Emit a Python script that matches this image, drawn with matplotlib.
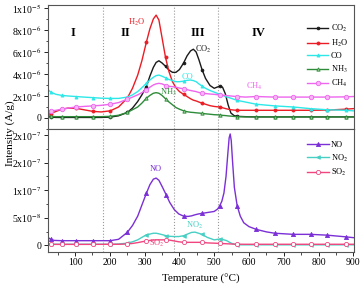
import numpy as np
import matplotlib
matplotlib.use('Agg')
import matplotlib.pyplot as plt
from matplotlib.ticker import FixedLocator, FixedFormatter, MultipleLocator

plt.rcParams['font.family'] = ['Liberation Serif', 'DejaVu Serif']
plt.rcParams['mathtext.fontset'] = 'stix'

# ---- top panel data (x1e-6 A/g) ----
t_top = [25, 30, 45, 62, 80, 103, 125, 151, 175, 201,
         225, 250, 265, 280, 292, 305, 315, 325, 333, 341,
         350, 360, 370, 380, 390, 400, 412, 422, 432, 440,
         448, 456, 465, 475, 488, 500, 508, 516, 524, 532,
         540, 548, 557, 566, 590, 621, 674, 727, 777, 825,
         878, 900]
co2 = [0.12, 0.08, 0.05, 0.05, 0.05, 0.05, 0.05, 0.05, 0.05, 0.08,
       0.2, 0.5, 0.9, 1.5, 2.1, 2.85, 3.8, 4.6, 5.05, 5.2,
       5.0, 4.7, 4.35, 4.15, 4.15, 4.4, 5.0, 5.65, 6.1, 6.25,
       6.0, 5.3, 4.4, 3.6, 2.95, 2.7, 2.8, 2.9, 2.8, 2.2,
       1.2, 0.45, 0.22, 0.15, 0.12, 0.1, 0.1, 0.1, 0.1, 0.1,
       0.1, 0.1]
h2o = [0.35, 0.4, 0.6, 0.8, 0.9, 0.88, 0.75, 0.6, 0.55, 0.65,
       1.0, 1.8, 2.7, 3.9, 5.2, 6.9, 8.1, 9.0, 9.35, 8.9,
       7.3, 5.5, 4.2, 3.3, 2.75, 2.4, 2.15, 1.95, 1.75, 1.62,
       1.55, 1.45, 1.35, 1.25, 1.12, 1.05, 1.02, 1.0, 0.93, 0.86,
       0.8, 0.75, 0.72, 0.7, 0.7, 0.7, 0.7, 0.7, 0.7, 0.72,
       0.8, 0.85]
co = [2.5, 2.35, 2.15, 2.05, 2.0, 1.95, 1.9, 1.85, 1.8, 1.78,
      1.78, 1.9, 2.1, 2.4, 2.75, 3.15, 3.45, 3.7, 3.85, 3.9,
      3.8, 3.65, 3.5, 3.4, 3.3, 3.3, 3.35, 3.42, 3.45, 3.4,
      3.3, 3.1, 2.9, 2.7, 2.5, 2.35, 2.25, 2.15, 2.05, 1.95,
      1.88, 1.8, 1.7, 1.6, 1.45, 1.25, 1.1, 1.0, 0.85, 0.75,
      0.7, 0.65]
nh3 = [0.2, 0.15, 0.12, 0.12, 0.12, 0.12, 0.12, 0.12, 0.12, 0.15,
       0.25, 0.5, 0.75, 1.0, 1.35, 1.8, 2.05, 2.25, 2.3, 2.25,
       2.05, 1.75, 1.45, 1.2, 0.95, 0.8, 0.65, 0.57, 0.52, 0.5,
       0.47, 0.45, 0.42, 0.38, 0.34, 0.3, 0.29, 0.27, 0.24, 0.22,
       0.19, 0.17, 0.14, 0.12, 0.1, 0.1, 0.1, 0.1, 0.1, 0.1,
       0.1, 0.1]
ch4 = [0.6, 0.62, 0.7, 0.8, 0.9, 1.0, 1.05, 1.1, 1.15, 1.25,
       1.4, 1.7, 1.9, 2.1, 2.3, 2.55, 2.8, 3.0, 3.1, 3.15,
       3.1, 2.95, 2.88, 2.85, 2.8, 2.72, 2.65, 2.57, 2.5, 2.45,
       2.4, 2.32, 2.25, 2.22, 2.18, 2.15, 2.12, 2.1, 2.07, 2.05,
       2.02, 2.0, 1.97, 1.95, 1.9, 1.95, 1.9, 1.9, 1.9, 1.9,
       1.92, 1.95]

# ---- bottom panel data (x1e-8 A/g) ----
t_bot = [25, 30, 40, 62, 103, 151, 201, 225, 250, 265,
         280, 292, 305, 315, 325, 333, 341, 350, 362, 372,
         385, 398, 412, 425, 435, 445, 455, 465, 480, 500,
         510, 516, 522, 528, 534, 539, 543, 546, 549, 553,
         558, 566, 575, 585, 600, 621, 650, 674, 727, 777,
         825, 878, 900]
no = [1.3, 1.1, 0.9, 0.85, 0.85, 0.85, 0.85, 1.1, 2.35, 3.6,
      5.3, 7.3, 9.45, 11.0, 12.0, 12.2, 11.8, 10.7, 9.15, 7.8,
      6.5, 5.7, 5.3, 5.25, 5.35, 5.55, 5.7, 5.8, 5.95, 6.15,
      6.6, 7.2, 8.0, 9.5, 12.5, 16.5, 19.5, 20.2, 19.0, 15.0,
      10.5, 7.2, 5.3, 4.1, 3.4, 2.9, 2.45, 2.2, 2.0, 2.0,
      1.85, 1.55, 1.4]
no2 = [0.2, 0.2, 0.2, 0.2, 0.2, 0.2, 0.2, 0.25, 0.4, 0.65,
       1.0, 1.45, 1.9, 2.05, 2.2, 2.2, 2.1, 1.95, 1.75, 1.65,
       1.6, 1.6, 1.75, 2.1, 2.35, 2.4, 2.2, 2.0, 1.45, 1.0,
       1.1, 1.15, 1.1, 1.0, 0.9, 0.75, 0.6, 0.5, 0.4, 0.3,
       0.2, 0.12, 0.1, 0.1, 0.1, 0.1, 0.1, 0.1, 0.1, 0.1,
       0.1, 0.1, 0.1]
so2 = [0.18, 0.18, 0.18, 0.18, 0.18, 0.18, 0.2, 0.2, 0.25, 0.35,
       0.5, 0.65, 0.8, 0.9, 0.97, 1.0, 1.0, 1.0, 1.0, 0.95,
       0.8, 0.65, 0.55, 0.55, 0.55, 0.55, 0.55, 0.55, 0.45, 0.4,
       0.37, 0.35, 0.33, 0.31, 0.3, 0.28, 0.27, 0.26, 0.25, 0.24,
       0.23, 0.22, 0.21, 0.2, 0.2, 0.2, 0.2, 0.2, 0.2, 0.2,
       0.2, 0.2, 0.2]

mark_t = [30, 62, 103, 151, 201, 250, 305, 360, 362, 412, 465, 516, 566, 621, 674, 727, 777, 825, 878]
regions = [180, 385, 510]

fig = plt.figure(figsize=(3.6, 2.84), dpi=100)
ax1 = fig.add_axes([0.1333, 0.5458, 0.85, 0.4366])
ax2 = fig.add_axes([0.1333, 0.1127, 0.85, 0.4331])

def marks(tt):
    return [i for i, t in enumerate(tt) if t in mark_t]

top_series = [
    (co2, 'CO$_2$', '#1a1a1a', 'o', 2.0, '#1a1a1a'),
    (h2o, 'H$_2$O', '#ec1c24', 'o', 2.2, '#ec1c24'),
    (co, 'CO', '#2ee8e8', '^', 2.2, '#2ee8e8'),
    (nh3, 'NH$_3$', '#2e8b3a', '^', 2.4, '#9ad19a'),
    (ch4, 'CH$_4$', '#ee66ee', 'o', 3.2, '#f6b3f6'),
]
for y, lab, c, m, ms, fc in top_series:
    ax1.plot(t_top, np.array(y) * 1e-6, color=c, lw=1.0, marker=m, ms=ms, mfc=fc, mec=c,
             mew=0.6, markevery=marks(t_top), label=lab)

bot_series = [
    (no, 'NO', '#7b2fd6', '^', 3.0, '#7b2fd6'),
    (no2, 'NO$_2$', '#48cfc4', '<', 2.6, '#48cfc4'),
    (so2, 'SO$_2$', '#f0457e', 'o', 3.0, 'white'),
]
for y, lab, c, m, ms, fc in bot_series:
    ax2.plot(t_bot, np.array(y) * 1e-8, color=c, lw=1.0, marker=m, ms=ms, mfc=fc, mec=c,
             mew=0.6, markevery=marks(t_bot), label=lab)

for ax in (ax1, ax2):
    for r in regions:
        ax.axvline(r, color='#999999', ls=':', lw=0.8, zorder=0)
    ax.set_xlim(22, 902)
    ax.xaxis.set_major_locator(MultipleLocator(100))
    ax.xaxis.set_minor_locator(MultipleLocator(50))
    ax.tick_params(direction='out', labelsize=7, length=3, width=0.6, pad=1.5)
    ax.tick_params(which='minor', direction='out', length=1.8, width=0.5)
    for s in ax.spines.values():
        s.set_linewidth(0.8)
        s.set_color('#555555')

ax1.set_ylim(-1.0e-6, 1.027e-5)
ax1.yaxis.set_major_locator(FixedLocator([0, 2e-6, 4e-6, 6e-6, 8e-6, 1e-5]))
ax1.yaxis.set_major_formatter(FixedFormatter(['0', '2x10$^{-6}$', '4x10$^{-6}$', '6x10$^{-6}$',
                                              '8x10$^{-6}$', '1x10$^{-5}$']))
ax1.yaxis.set_minor_locator(MultipleLocator(1e-6))
ax1.tick_params(axis='x', which='both', bottom=False, labelbottom=False)

ax2.set_ylim(-1.2e-8, 2.11e-7)
ax2.yaxis.set_major_locator(FixedLocator([0, 5e-8, 1e-7, 1.5e-7, 2e-7]))
ax2.yaxis.set_major_formatter(FixedFormatter(['0', '5x10$^{-8}$', '1x10$^{-7}$', '2x10$^{-7}$',
                                              '2x10$^{-7}$']))
ax2.yaxis.set_minor_locator(MultipleLocator(2.5e-8))
ax2.set_xlabel('Temperature (°C)', fontsize=8, labelpad=5)

for txt, x in [('I', 95), ('II', 244), ('III', 452), ('IV', 628)]:
    ax1.text(x, 7.7e-6, txt, fontsize=9, fontweight='bold', ha='center', va='center')

ax1.text(277, 8.7e-6, 'H$_2$O', color='#ec1c24', fontsize=6, ha='center', va='center')
ax1.text(369, 2.35e-6, 'NH$_3$', color='#2e8b3a', fontsize=6, ha='center', va='center')
ax1.text(470, 6.25e-6, 'CO$_2$', color='#1a1a1a', fontsize=6, ha='center', va='center')
ax1.text(422, 3.75e-6, 'CO', color='#2ee8e8', fontsize=6, ha='center', va='center')
ax1.text(614, 2.9e-6, 'CH$_4$', color='#ee66ee', fontsize=6, ha='center', va='center')
ax2.text(331, 1.38e-7, 'NO', color='#7b2fd6', fontsize=6, ha='center', va='center')
ax2.text(444, 3.7e-8, 'NO$_2$', color='#48cfc4', fontsize=6, ha='center', va='center')
ax2.text(336, 0.3e-8, 'SO$_2$', color='#f0457e', fontsize=6, ha='center', va='center')

leg_kw = dict(loc='upper right', frameon=False, fontsize=6, handlelength=2.6,
              handletextpad=0.3, labelspacing=0.4, borderaxespad=0.3)
ax1.legend(bbox_to_anchor=(1.0, 0.90), **leg_kw)
ax2.legend(bbox_to_anchor=(1.0, 0.95), **leg_kw)

fig.text(0.028, 0.53, 'Intensity (A/g)', rotation=90, fontsize=8, ha='center', va='center')

fig.savefig('out.png', dpi=100)
